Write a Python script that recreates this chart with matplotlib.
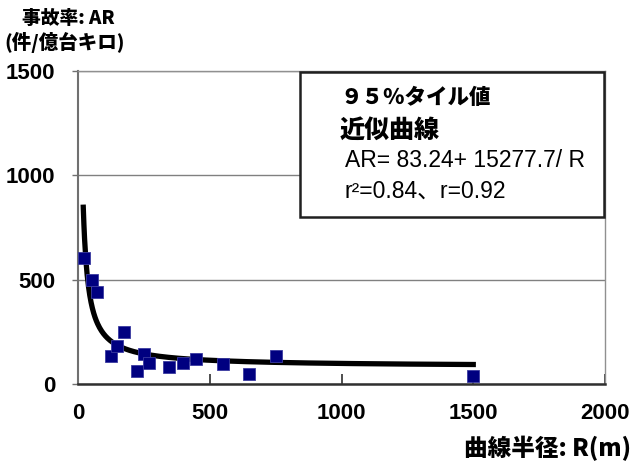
import numpy as np
import matplotlib.pyplot as plt

# Observed 95th-percentile accident rates vs curve radius
radius_m = [23, 52, 73, 124, 149, 175, 225, 250, 271, 347, 397, 448, 549, 650, 751, 1500]
acc_rate = [602, 497, 440, 136, 184, 249, 60, 146, 103, 81, 103, 120, 97, 49, 133, 40]

# Fitted curve AR = a + b / R (coefficients as shown on the chart)
fit_a = 83.24
fit_b = 15277.7
fit_r_start = 20
fit_r_end = 1500

x_ticks = [0, 500, 1000, 1500, 2000]
y_ticks = [0, 500, 1000, 1500]

latin_cjk = ['Liberation Sans', 'Noto Sans CJK JP']
cjk_latin = ['Noto Sans CJK JP', 'Liberation Sans']
plt.rcParams['font.family'] = latin_cjk

fig = plt.figure(figsize=(6.34, 4.63), dpi=100)
ax = fig.add_axes([78/634, 1 - 384/463, (605 - 78)/634, (384 - 71)/463])

# fit curve
r_fit = np.linspace(fit_r_start, fit_r_end, 600)
ax.plot(r_fit, fit_a + fit_b / r_fit, color='black', lw=3.8, zorder=3)

# data
ax.plot(radius_m, acc_rate, linestyle='none', marker='s', ms=8,
        color='#000080', markeredgecolor='#3a3aa0', markeredgewidth=0.6, zorder=4)

ax.set_xlim(0, 2000)
ax.set_ylim(0, 1500)
ax.set_xticks(x_ticks)
ax.set_yticks(y_ticks)
ax.yaxis.grid(True, color='#808080', lw=1)
ax.set_axisbelow(True)

for side in ['top', 'right']:
    ax.spines[side].set_color('#909090')
    ax.spines[side].set_linewidth(1)
ax.spines['left'].set_color('#707070')
ax.spines['left'].set_linewidth(1.5)
ax.spines['bottom'].set_color('#303030')
ax.spines['bottom'].set_linewidth(1.8)

ax.tick_params(axis='x', direction='in', length=7, width=1.2, pad=14,
               labelsize=16, color='#303030')
ax.tick_params(axis='y', direction='out', length=4, width=1, pad=12.5,
               labelsize=16, color='#707070')
for lbl in ax.get_xticklabels() + ax.get_yticklabels():
    lbl.set_fontweight('bold')

# axis titles
fig.text(22/634, 1 - 18/463, '事故率: AR', family=cjk_latin, fontsize=13.5,
         fontweight='heavy', va='center', ha='left')
fig.text(4/634, 1 - 42/463, '(件/億台キロ)', family=cjk_latin, fontsize=14,
         fontweight='heavy', va='center', ha='left')
fig.text(631/634, 1 - 448/463, '曲線半径: R(m)', family=cjk_latin, fontsize=17,
         fontweight='heavy', va='center', ha='right')

# annotation box
box_l, box_r, box_t, box_b = 300, 604, 72, 217
fig.patches.append(plt.Rectangle((box_l/634, 1 - box_b/463),
                                 (box_r - box_l)/634, (box_b - box_t)/463,
                                 transform=fig.transFigure, facecolor='white',
                                 edgecolor='#202020', lw=1.8, zorder=5))
fig.text(340/634, 1 - 98/463, '９５％タイル値', family=cjk_latin, fontsize=15.5,
         fontweight='heavy', va='center', ha='left', zorder=6)
fig.text(340/634, 1 - 130/463, '近似曲線', family=cjk_latin, fontsize=18,
         fontweight='heavy', va='center', ha='left', zorder=6)
fig.text(345/634, 1 - 161/463, 'AR= 83.24+ 15277.7/ R', family=latin_cjk,
         fontsize=16.5, va='center', ha='left', zorder=6)
fig.text(345/634, 1 - 191/463, 'r²=0.84、r=0.92', family=latin_cjk,
         fontsize=16.5, va='center', ha='left', zorder=6)

fig.savefig('out.png', dpi=100)
